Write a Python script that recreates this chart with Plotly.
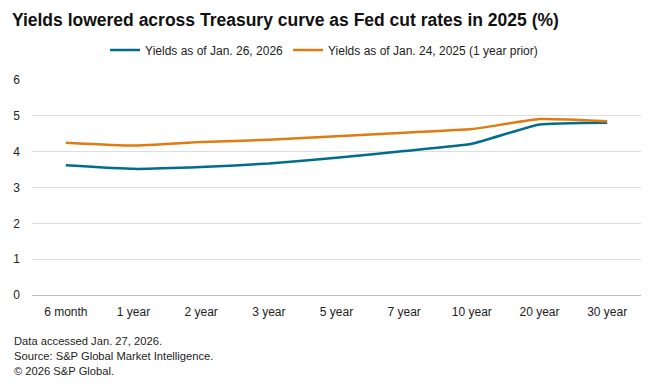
import plotly.graph_objects as go

categories = ["6 month", "1 year", "2 year", "3 year", "5 year", "7 year", "10 year", "20 year", "30 year"]
yields_2026 = [3.62, 3.52, 3.57, 3.67, 3.83, 4.02, 4.22, 4.76, 4.81]
yields_2025 = [4.25, 4.17, 4.27, 4.33, 4.43, 4.53, 4.63, 4.91, 4.85]
series_names = ["Yields as of Jan. 26, 2026", "Yields as of Jan. 24, 2025 (1 year prior)"]
y_ticks = [0, 1, 2, 3, 4, 5, 6]

FONT = "Liberation Sans, Arial, sans-serif"
fig = go.Figure()
fig.add_trace(go.Scatter(x=categories, y=yields_2026, mode="lines", name=series_names[0],
                         line=dict(color="#006E8A", width=2.5, shape="spline", smoothing=0.4)))
fig.add_trace(go.Scatter(x=categories, y=yields_2025, mode="lines", name=series_names[1],
                         line=dict(color="#E07B0F", width=2.5, shape="spline", smoothing=0.4)))

fig.update_layout(
    width=660, height=387,
    margin=dict(l=32, r=19, t=80, b=92, autoexpand=False),
    paper_bgcolor="white", plot_bgcolor="white",
    font=dict(family=FONT, size=12, color="#222"),
    title=dict(text="<b>Yields lowered across Treasury curve as Fed cut rates in 2025 (%)</b>",
               x=0.018, xanchor="left", y=0.948, yanchor="middle",
               font=dict(family=FONT, size=17.5, color="#111")),
    legend=dict(orientation="h", x=0.12, xanchor="left", y=1.14, yanchor="middle",
                font=dict(family=FONT, size=12, color="#222"), itemwidth=30,
                bgcolor="rgba(0,0,0,0)"),
    showlegend=True,
)
fig.update_xaxes(showgrid=False, ticks="", showline=False, tickfont=dict(size=12, color="#222"),
                 range=[-0.5, 8.5], ticklabelstandoff=8)
fig.update_yaxes(range=[0, 6], tickvals=y_ticks, showgrid=True, gridcolor="#DEDEDE", gridwidth=1,
                 zeroline=True, zerolinecolor="#BBBBBB", zerolinewidth=1, ticks="",
                 tickfont=dict(size=12, color="#222"), ticklabelstandoff=11)

footer = ["Data accessed Jan. 27, 2026.", "Source: S&P Global Market Intelligence.", "© 2026 S&P Global."]
for i, t in enumerate(footer):
    fig.add_annotation(text=t, xref="paper", yref="paper", x=-0.033, xanchor="left",
                       y=-0.214 - i * 0.07, yanchor="middle", showarrow=False,
                       font=dict(family=FONT, size=11.2, color="#222"))

fig.write_html("out.html", config={"displayModeBar": False},
               post_script="document.body.style.margin='0';")
